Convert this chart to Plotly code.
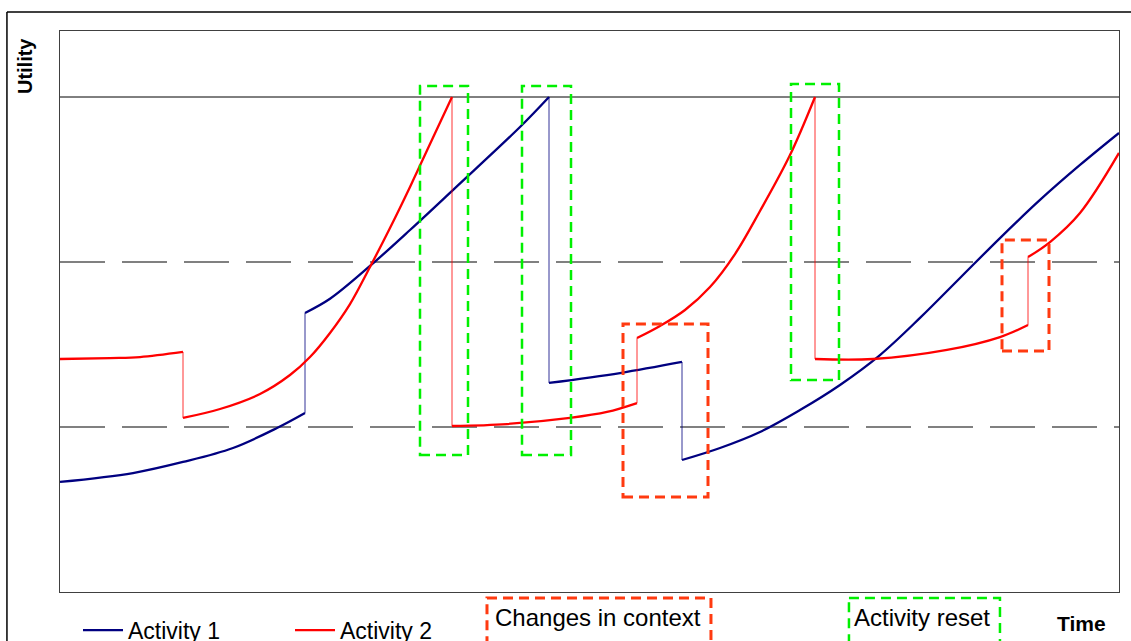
import plotly.graph_objects as go

# ---------------- data ----------------
# Activity 1 (utility over time), piecewise segments between resets / context changes
a1_seg1_t = [0, 7.3, 12.3, 17.3, 21.7, 24.5]
a1_seg1_u = [0.667, 0.721, 0.788, 0.873, 0.994, 1.085]
a1_seg2_t = [24.5, 27.0, 31.0, 35.0, 39.5, 46.0, 48.9]
a1_seg2_u = [1.691, 1.777, 1.976, 2.194, 2.448, 2.818, 3.0]
a1_seg3_t = [48.9, 56.0, 62.2]
a1_seg3_u = [1.267, 1.327, 1.394]
a1_seg4_t = [62.2, 66.0, 70.0, 74.0, 78.0, 82.0, 86.0, 90.0, 94.0, 98.0, 102.0, 105.9]
a1_seg4_u = [0.800, 0.873, 0.970, 1.103, 1.255, 1.436, 1.661, 1.903, 2.145, 2.376, 2.588, 2.782]

# Activity 2
a2_seg1_t = [0, 5.0, 8.0, 12.3]
a2_seg1_u = [1.412, 1.418, 1.424, 1.455]
a2_seg2_t = [12.3, 16.0, 20.0, 23.0, 25.0, 27.0, 29.0, 31.0, 33.0, 35.0, 37.0, 39.2]
a2_seg2_u = [1.055, 1.109, 1.200, 1.315, 1.424, 1.570, 1.745, 1.970, 2.206, 2.455, 2.715, 3.0]
a2_seg3_t = [39.2, 44.7, 51.0, 54.7, 57.7]
a2_seg3_u = [1.006, 1.018, 1.055, 1.091, 1.145]
a2_seg4_t = [57.7, 60.0, 62.5, 65.0, 67.5, 70.0, 73.0, 75.5]
a2_seg4_u = [1.539, 1.612, 1.709, 1.848, 2.048, 2.309, 2.648, 3.0]
a2_seg5_t = [75.5, 81.3, 88.7, 94.0, 96.8]
a2_seg5_u = [1.412, 1.412, 1.467, 1.545, 1.618]
a2_seg6_t = [96.8, 99.0, 102.0, 105.9]
a2_seg6_u = [2.03, 2.121, 2.297, 2.661]

threshold_level = 3.0
dashed_levels = [2.0, 1.0]

# highlighted regions: (t0, t1, u0, u1)
reset_boxes = [(36.0, 40.8, 0.830, 3.067), (46.2, 51.1, 0.830, 3.067), (73.1, 77.9, 1.285, 3.079)]
context_boxes = [(56.3, 64.8, 0.576, 1.624), (94.2, 98.9, 1.461, 2.133)]

series_names = ["Activity 1", "Activity 2"]
series_colors = ["#000080", "#FF0000"]
series_segments = [
    [(a1_seg1_t, a1_seg1_u), (a1_seg2_t, a1_seg2_u), (a1_seg3_t, a1_seg3_u), (a1_seg4_t, a1_seg4_u)],
    [(a2_seg1_t, a2_seg1_u), (a2_seg2_t, a2_seg2_u), (a2_seg3_t, a2_seg3_u),
     (a2_seg4_t, a2_seg4_u), (a2_seg5_t, a2_seg5_u), (a2_seg6_t, a2_seg6_u)],
]

GREEN = "#00F000"
ORANGE = "#FF3A10"

fig = go.Figure()

for name, color, segs in zip(series_names, series_colors, series_segments):
    # thin vertical jumps between segments
    for (ta, ua), (tb, ub) in zip(segs[:-1], segs[1:]):
        fig.add_trace(go.Scatter(x=[ta[-1], tb[0]], y=[ua[-1], ub[0]], mode="lines",
                                 line=dict(color=color, width=1), opacity=0.8,
                                 showlegend=False, hoverinfo="skip"))
    for i, (t, u) in enumerate(segs):
        fig.add_trace(go.Scatter(x=t, y=u, mode="lines", name=name,
                                 line=dict(color=color, width=2.3, shape="spline", smoothing=1.0),
                                 legendgroup=name, showlegend=(i == 0)))

shapes = []
# threshold lines
shapes.append(dict(type="line", xref="paper", yref="y", x0=0, x1=1, y0=threshold_level, y1=threshold_level,
                   line=dict(color="#000000", width=1), layer="below"))
for lv in dashed_levels:
    shapes.append(dict(type="line", xref="paper", yref="y", x0=0, x1=1, y0=lv, y1=lv,
                       line=dict(color="#808080", width=1.8, dash="45px,17px"), layer="below"))
for (t0, t1, u0, u1) in reset_boxes:
    shapes.append(dict(type="rect", xref="x", yref="y", x0=t0, x1=t1, y0=u0, y1=u1,
                       line=dict(color=GREEN, width=2.5, dash="10px,6px")))
for (t0, t1, u0, u1) in context_boxes:
    shapes.append(dict(type="rect", xref="x", yref="y", x0=t0, x1=t1, y0=u0, y1=u1,
                       line=dict(color=ORANGE, width=3, dash="10px,6px")))

# bottom key boxes (paper coords)
shapes.append(dict(type="rect", xref="paper", yref="paper", x0=0.4032, x1=0.6147, y0=-0.0107, y1=-0.125,
                   line=dict(color=ORANGE, width=3, dash="10px,6px")))
shapes.append(dict(type="rect", xref="paper", yref="paper", x0=0.745, x1=0.8876, y0=-0.0107, y1=-0.125,
                   line=dict(color=GREEN, width=2.5, dash="10px,6px")))
# outer frame (top and left)
shapes.append(dict(type="line", xref="paper", yref="paper", x0=-0.0501, x1=1.02, y0=1.0339, y1=1.0339,
                   line=dict(color="#000000", width=1.5)))
shapes.append(dict(type="line", xref="paper", yref="paper", x0=-0.0501, x1=-0.0501, y0=1.0339, y1=-0.13,
                   line=dict(color="#000000", width=1.5)))

FONT = "Liberation Sans, Arial, sans-serif"
annotations = [
    dict(text="Changes in context", xref="paper", yref="paper", x=0.4085, y=-0.046,
         xanchor="left", yanchor="middle", showarrow=False, font=dict(size=24, color="#000")),
    dict(text="Activity reset", xref="paper", yref="paper", x=0.7479, y=-0.046,
         xanchor="left", yanchor="middle", showarrow=False, font=dict(size=24, color="#000")),
    dict(text="<b>Time</b>", xref="paper", yref="paper", x=0.965, y=-0.057,
         xanchor="center", yanchor="middle", showarrow=False, font=dict(size=21, color="#000")),
    dict(text="<b>Utility</b>", xref="paper", yref="paper", x=-0.033, y=0.9376, textangle=-90,
         xanchor="center", yanchor="middle", showarrow=False, font=dict(size=20, color="#000")),
]

fig.update_layout(
    width=1131, height=641,
    margin=dict(l=60, r=12, t=31, b=49, autoexpand=False),
    paper_bgcolor="white", plot_bgcolor="white",
    font=dict(family=FONT, color="#000"),
    shapes=shapes, annotations=annotations,
    showlegend=True,
    legend=dict(orientation="h", x=0.017, y=-0.068, xanchor="left", yanchor="middle",
                font=dict(size=23), entrywidth=157, entrywidthmode="pixels",
                bgcolor="rgba(0,0,0,0)", tracegroupgap=0, itemwidth=40),
)
fig.update_xaxes(range=[0, 105.9], showgrid=False, zeroline=False, showticklabels=False, ticks="",
                 showline=True, linecolor="#404040", linewidth=1, mirror=True)
fig.update_yaxes(range=[0, 3.4], showgrid=False, zeroline=False, showticklabels=False, ticks="",
                 showline=True, linecolor="#404040", linewidth=1, mirror=True)

fig.write_html("out.html", config={"displayModeBar": False},
               post_script="document.body.style.margin='0px';document.body.style.overflow='hidden';")
